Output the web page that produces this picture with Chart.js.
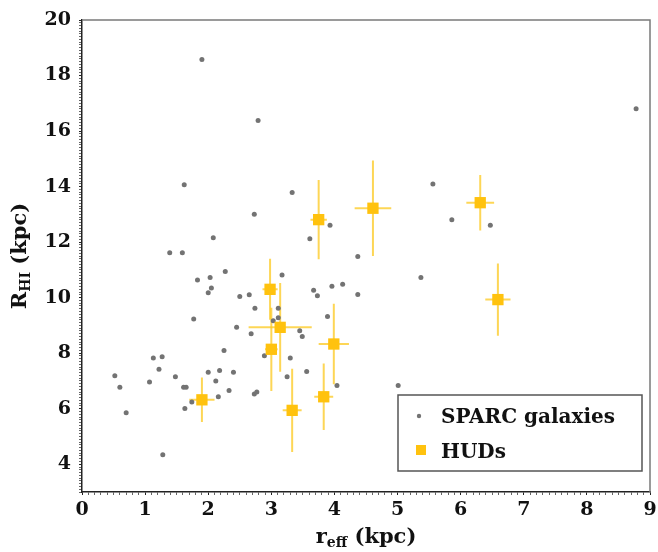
<!DOCTYPE html>
<html>
<head>
<meta charset="utf-8">
<script src="https://cdn.jsdelivr.net/npm/chart.js@4.4.0/dist/chart.umd.min.js"></script>
<style>
  html, body { margin: 0; padding: 0; background: #fff; }
</style>
</head>
<body>
<canvas id="c" width="658" height="552"></canvas>
<script>
// SPARC galaxies: effective radius and HI radius (kpc)
const sparcReff = [1.90, 2.79, 1.62, 2.73, 2.08, 1.39, 1.59, 1.83, 2.03, 2.27,
  2.05, 2.00, 2.50, 2.65, 2.74, 1.77, 2.45, 2.68, 3.03, 3.11,
  3.17, 3.11, 2.25, 2.89, 1.13, 1.27, 1.22, 0.52, 0.60, 0.70,
  1.07, 1.48, 1.61, 1.65, 1.63, 1.74, 2.00, 2.18, 2.40, 2.12,
  2.16, 2.33, 2.73, 2.77, 1.28, 3.67, 3.73, 3.96, 4.13, 4.37,
  3.89, 3.45, 3.49, 3.30, 3.25, 3.56, 4.04, 5.01, 3.33, 3.93,
  3.61, 4.37, 5.56, 5.86, 5.37, 8.78, 6.47];
const sparcRhi = [18.58, 16.38, 14.07, 13.00, 12.16, 11.62, 11.62, 10.64, 10.73, 10.94,
  10.35, 10.18, 10.04, 10.10, 9.62, 9.23, 8.93, 8.70, 9.17, 9.62,
  10.82, 9.28, 8.10, 7.91, 7.83, 7.87, 7.42, 7.19, 6.77, 5.85,
  6.96, 7.15, 6.77, 6.77, 6.01, 6.24, 7.31, 7.38, 7.31, 7.00,
  6.43, 6.66, 6.53, 6.60, 4.34, 10.27, 10.07, 10.41, 10.48, 10.11,
  9.32, 8.81, 8.60, 7.83, 7.15, 7.34, 6.84, 6.84, 13.79, 12.61,
  12.12, 11.48, 14.09, 12.81, 10.73, 16.80, 12.61];

// HUDs with uncertainties
const hudReff    = [1.90, 2.98, 3.00, 3.14, 3.33, 3.75, 3.99, 3.83, 4.61, 6.31, 6.59];
const hudReffErr = [0.20, 0.12, 0.10, 0.50, 0.15, 0.13, 0.24, 0.15, 0.29, 0.22, 0.20];
const hudRhi     = [6.32, 10.30, 8.14, 8.93, 5.94, 12.81, 8.33, 6.43, 13.22, 13.42, 9.93];
const hudRhiErr  = [0.80, 1.10, 1.50, 1.60, 1.50, 1.43, 1.45, 1.20, 1.72, 1.00, 1.30];

const xTickLabels = ['0', '1', '2', '3', '4', '5', '6', '7', '8', '9'];
const yTickLabels = ['4', '6', '8', '10', '12', '14', '16', '18', '20'];

const serif = '"DejaVu Serif", serif';
const hudColor = '#ffc20e';
const barColor = 'rgba(252, 200, 30, 0.75)';
const dotColor = '#737373';

function labelFor(v, list) {
  const r = Math.round(v);
  if (Math.abs(v - r) > 1e-6) return '';
  return list.indexOf(String(r)) > -1 ? String(r) : '';
}

const errorBars = {
  id: 'errorBars',
  beforeDatasetsDraw(chart) {
    const ctx = chart.ctx, xs = chart.scales.x, ys = chart.scales.y;
    ctx.save();
    ctx.strokeStyle = barColor;
    ctx.lineWidth = 2;
    for (let i = 0; i < hudReff.length; i++) {
      const px = xs.getPixelForValue(hudReff[i]);
      const py = ys.getPixelForValue(hudRhi[i]);
      ctx.beginPath();
      ctx.moveTo(xs.getPixelForValue(hudReff[i] - hudReffErr[i]), py);
      ctx.lineTo(xs.getPixelForValue(hudReff[i] + hudReffErr[i]), py);
      ctx.moveTo(px, ys.getPixelForValue(hudRhi[i] - hudRhiErr[i]));
      ctx.lineTo(px, ys.getPixelForValue(hudRhi[i] + hudRhiErr[i]));
      ctx.stroke();
    }
    ctx.restore();
  }
};

const frame = {
  id: 'frame',
  afterDraw(chart) {
    const ctx = chart.ctx, a = chart.chartArea;
    ctx.save();
    ctx.strokeStyle = '#7a7a7a';
    ctx.lineWidth = 1.5;
    ctx.beginPath();
    ctx.moveTo(a.left, a.top);
    ctx.lineTo(a.right, a.top);
    ctx.lineTo(a.right, a.bottom);
    ctx.stroke();

    // axis titles with subscripts
    ctx.fillStyle = '#111';
    ctx.textBaseline = 'alphabetic';
    const big = 'bold 21px ' + serif, small = 'bold 14px ' + serif;
    function drawTitle(main, sub, rest) {
      ctx.font = big; const w1 = ctx.measureText(main).width, w3 = ctx.measureText(rest).width;
      ctx.font = small; const w2 = ctx.measureText(sub).width;
      let x = -(w1 + w2 + w3) / 2;
      ctx.font = big; ctx.fillText(main, x, 0); x += w1;
      ctx.font = small; ctx.fillText(sub, x, 4); x += w2;
      ctx.font = big; ctx.fillText(rest, x, 0);
    }
    ctx.save();
    ctx.translate((a.left + a.right) / 2, 543);
    drawTitle('r', 'eff', ' (kpc)');
    ctx.restore();
    ctx.save();
    ctx.translate(26, (a.top + a.bottom) / 2);
    ctx.rotate(-Math.PI / 2);
    drawTitle('R', 'HI', ' (kpc)');
    ctx.restore();

    // legend box
    const lx = a.right - 252, ly = a.bottom - 97, lw = 244, lh = 76;
    ctx.fillStyle = '#fff';
    ctx.fillRect(lx, ly, lw, lh);
    ctx.strokeStyle = '#555';
    ctx.lineWidth = 1.5;
    ctx.strokeRect(lx, ly, lw, lh);
    ctx.fillStyle = dotColor;
    ctx.beginPath();
    ctx.arc(lx + 21, ly + 21, 2.2, 0, Math.PI * 2);
    ctx.fill();
    ctx.fillStyle = hudColor;
    ctx.fillRect(lx + 18, ly + 50, 10, 10);
    ctx.fillStyle = '#111';
    ctx.font = 'bold 20px ' + serif;
    ctx.fillText(chart.data.datasets[1].label, lx + 43, ly + 28);
    ctx.fillText(chart.data.datasets[0].label, lx + 43, ly + 63);
    ctx.restore();
  }
};

new Chart(document.getElementById('c'), {
  type: 'scatter',
  data: {
    datasets: [{
      label: 'HUDs',
      data: hudReff.map((x, i) => ({ x: x, y: hudRhi[i] })),
      pointStyle: 'rect',
      pointRadius: 8,
      backgroundColor: hudColor,
      borderWidth: 0
    }, {
      label: 'SPARC galaxies',
      data: sparcReff.map((x, i) => ({ x: x, y: sparcRhi[i] })),
      pointRadius: 2.5,
      backgroundColor: dotColor,
      borderWidth: 0
    }]
  },
  options: {
    responsive: false,
    animation: false,
    layout: { padding: { top: 20, right: 2, left: 0, bottom: 0 } },
    plugins: { legend: { display: false }, tooltip: { enabled: false } },
    scales: {
      x: {
        min: 0, max: 9,
        afterFit(s) { s.height = 60; s.paddingRight = 0; s.paddingLeft = 0; },
        border: { color: '#222', width: 1.5 },
        grid: {
          drawOnChartArea: false, tickLength: 3,
          color: ctx => labelFor(ctx.tick.value, xTickLabels) ? '#222' : '#666'
        },
        ticks: {
          stepSize: 0.1, autoSkip: false, maxRotation: 0, padding: 4,
          color: '#111', font: { family: serif, size: 19, weight: 'bold' },
          callback: v => labelFor(v, xTickLabels)
        }
      },
      y: {
        min: 3, max: 20,
        afterFit(s) { s.width = 82; s.paddingTop = 0; s.paddingBottom = 0; },
        border: { color: '#222', width: 1.5 },
        grid: {
          drawOnChartArea: false, tickLength: 3,
          color: ctx => labelFor(ctx.tick.value, yTickLabels) ? '#222' : '#666'
        },
        ticks: {
          stepSize: 0.1, autoSkip: false, padding: 8,
          color: '#111', font: { family: serif, size: 19, weight: 'bold' },
          callback: v => labelFor(v, yTickLabels)
        }
      }
    }
  },
  plugins: [errorBars, frame]
});
</script>
</body>
</html>
